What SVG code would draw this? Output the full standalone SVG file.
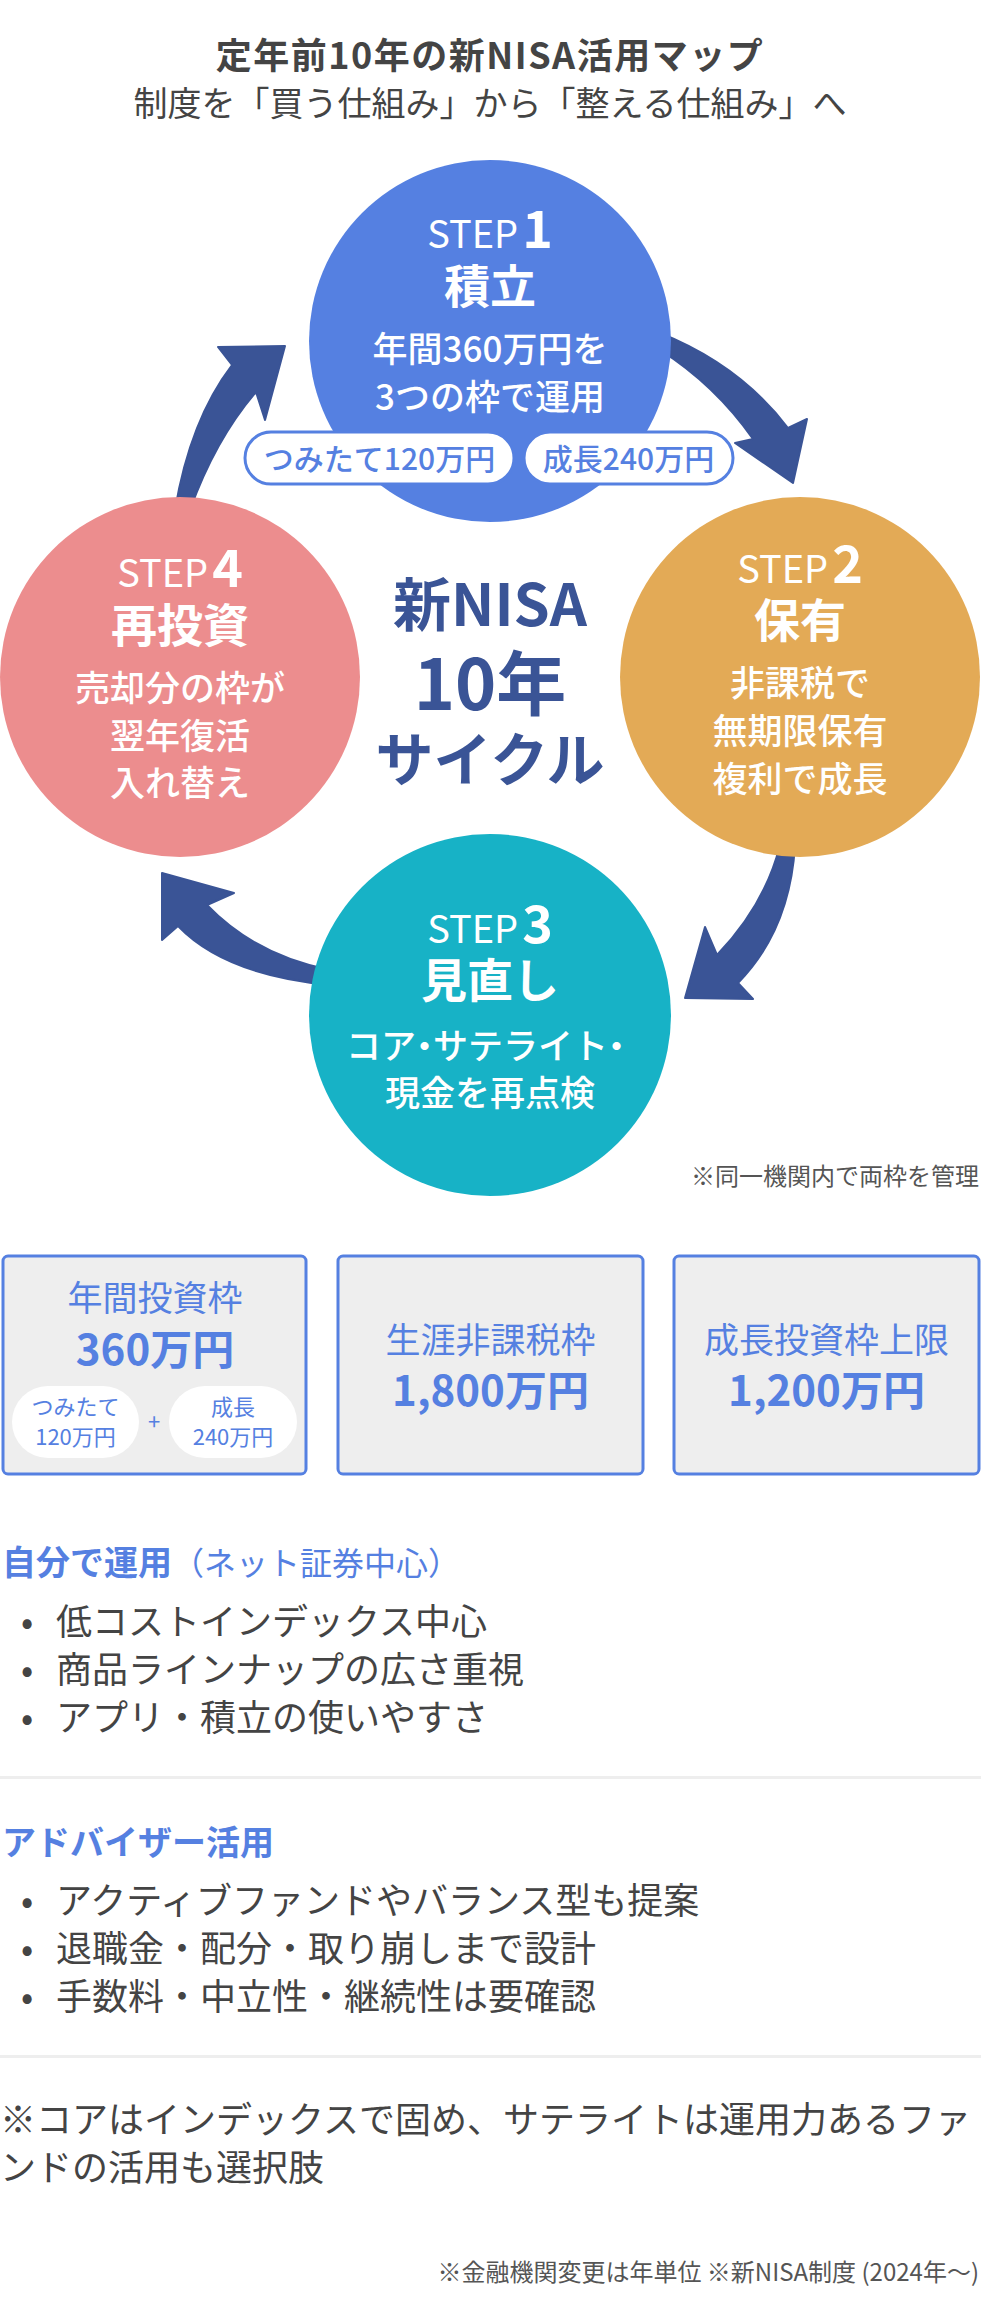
<svg xmlns="http://www.w3.org/2000/svg" width="981" height="2322" viewBox="0 0 981 2322">
<style>
text{font-family:"Noto Sans CJK JP","Noto Sans",sans-serif}
.ttl{font-size:36px;font-weight:700;fill:#444;letter-spacing:1.5px}
.sub{font-size:34px;fill:#444}
.stp{font-size:38px;font-weight:400;fill:#fff}
.num{font-size:52px;font-weight:700;fill:#fff}
.nt{font-size:46px;font-weight:700;fill:#fff}
.nb{font-size:35px;font-weight:500;fill:#fff}
.pilltx{font-size:30px;font-weight:500;fill:#5580E1}
.ctr{font-weight:700;fill:#3A5496}
.bl{font-size:35px;fill:#5580E1}
.bv{font-size:42px;font-weight:700;fill:#5580E1}
.ip{font-size:22px;fill:#5580E1}
.hd{font-size:34px;font-weight:700;fill:#5580E1}
.li{font-size:36px;fill:#444}
.sm{font-size:24px;fill:#555}
.arrow{fill:#3A5496;stroke:#3A5496;stroke-width:2;stroke-linejoin:round}
.box{fill:#EEEEEE;stroke:#5580E1;stroke-width:3}
</style>
<rect width="981" height="2322" fill="#fff"/>
<text class="ttl" x="490" y="69" text-anchor="middle">定年前10年の新NISA活用マップ</text>
<text class="sub" x="490" y="116" text-anchor="middle">制度を「買う仕組み」から「整える仕組み」へ</text>

<g id="connectors">
<path class="arrow" d="M 660 333 Q 740 365 788 428 L 807 419 L 793 483 L 735 443 L 753 439 Q 715 385 660 350 Z"/>
<path class="arrow" d="M 795 845 Q 790 930 738 983 L 753 999 L 685 998 L 705 927 L 717 955 Q 765 905 780 845 Z"/>
<path class="arrow" d="M 330 970 Q 255 955 207 905 L 234 893 L 162 873 L 162 940 L 178 926 Q 225 975 330 985 Z"/>
<path class="arrow" d="M 175 510 Q 190 420 232 365 L 218 347 L 285 346 L 265 420 L 256 392 Q 215 440 190 510 Z"/>
</g>

<g id="step1">
<circle cx="490" cy="341" r="181" fill="#5580E1"/>
<text x="490" y="248" text-anchor="middle"><tspan class="stp">STEP</tspan><tspan class="num" dx="4">1</tspan></text>
<text class="nt" x="490" y="303" text-anchor="middle">積立</text>
<text class="nb" x="490" y="362" text-anchor="middle">年間360万円を</text>
<text class="nb" x="490" y="410" text-anchor="middle">3つの枠で運用</text>
<rect x="245" y="432" width="269" height="52" rx="26" fill="#fff" stroke="#5580E1" stroke-width="3"/>
<text class="pilltx" x="379.5" y="470" text-anchor="middle">つみたて120万円</text>
<rect x="524" y="432" width="209" height="52" rx="26" fill="#fff" stroke="#5580E1" stroke-width="3"/>
<text class="pilltx" x="628.5" y="470" text-anchor="middle">成長240万円</text>
</g>

<g id="step2">
<circle cx="800" cy="677" r="180" fill="#E3AA56"/>
<text x="800" y="583" text-anchor="middle"><tspan class="stp">STEP</tspan><tspan class="num" dx="4">2</tspan></text>
<text class="nt" x="800" y="637" text-anchor="middle">保有</text>
<text class="nb" x="800" y="696" text-anchor="middle">非課税で</text>
<text class="nb" x="800" y="744" text-anchor="middle">無期限保有</text>
<text class="nb" x="800" y="792" text-anchor="middle">複利で成長</text>
</g>

<g id="step3">
<circle cx="490" cy="1015" r="181" fill="#17B2C6"/>
<text x="490" y="943" text-anchor="middle"><tspan class="stp">STEP</tspan><tspan class="num" dx="4">3</tspan></text>
<text class="nt" x="490" y="997" text-anchor="middle">見直し</text>
<text class="nb" x="490" y="1059" text-anchor="middle">コア<tspan dx="-9">・</tspan><tspan dx="-9">サテライト</tspan><tspan dx="-9">・</tspan></text>
<text class="nb" x="490" y="1106" text-anchor="middle">現金を再点検</text>
</g>

<g id="step4">
<circle cx="180" cy="677" r="180" fill="#EC8D8E"/>
<text x="180" y="587" text-anchor="middle"><tspan class="stp">STEP</tspan><tspan class="num" dx="4">4</tspan></text>
<text class="nt" x="180" y="642" text-anchor="middle">再投資</text>
<text class="nb" x="180" y="701" text-anchor="middle">売却分の枠が</text>
<text class="nb" x="180" y="749" text-anchor="middle">翌年復活</text>
<text class="nb" x="180" y="796" text-anchor="middle">入れ替え</text>
</g>

<g id="center">
<text class="ctr" x="490" y="626" font-size="58" text-anchor="middle">新NISA</text>
<text class="ctr" x="490" y="710" font-size="70" text-anchor="middle">10年</text>
<text class="ctr" x="490" y="781" font-size="58" text-anchor="middle">サイクル</text>
</g>

<text class="sm" x="979" y="1185" text-anchor="end" fill="#444">※同一機関内で両枠を管理</text>

<g id="box1">
<rect class="box" x="3" y="1256" width="303" height="218" rx="5"/>
<text class="bl" x="155" y="1311" text-anchor="middle">年間投資枠</text>
<text class="bv" x="155" y="1365" text-anchor="middle">360万円</text>
<rect x="12" y="1386" width="127" height="72" rx="36" fill="#fff"/>
<text class="ip" x="75.5" y="1415" text-anchor="middle">つみたて</text>
<text class="ip" x="75.5" y="1445" text-anchor="middle">120万円</text>
<text class="ip" x="154" y="1430" text-anchor="middle">+</text>
<rect x="169" y="1386" width="128" height="72" rx="36" fill="#fff"/>
<text class="ip" x="233" y="1415" text-anchor="middle">成長</text>
<text class="ip" x="233" y="1445" text-anchor="middle">240万円</text>
</g>

<g id="box2">
<rect class="box" x="338" y="1256" width="305" height="218" rx="5"/>
<text class="bl" x="490.5" y="1353" text-anchor="middle">生涯非課税枠</text>
<text class="bv" x="490.5" y="1406" text-anchor="middle">1,800万円</text>
</g>

<g id="box3">
<rect class="box" x="674" y="1256" width="305" height="218" rx="5"/>
<text class="bl" x="826.5" y="1353" text-anchor="middle">成長投資枠上限</text>
<text class="bv" x="826.5" y="1406" text-anchor="middle">1,200万円</text>
</g>

<g id="self">
<text class="hd" x="2" y="1575">自分で運用<tspan font-size="32" font-weight="400">（ネット証券中心）</tspan></text>
<text class="li" x="27" y="1635" text-anchor="middle">•</text>
<text class="li" x="56" y="1635">低コストインデックス中心</text>
<text class="li" x="27" y="1683" text-anchor="middle">•</text>
<text class="li" x="56" y="1683">商品ラインナップの広さ重視</text>
<text class="li" x="27" y="1731" text-anchor="middle">•</text>
<text class="li" x="56" y="1731">アプリ・積立の使いやすさ</text>
</g>

<rect x="0" y="1776" width="981" height="3" fill="#EEEEEE"/>

<g id="advisor">
<text class="hd" x="2" y="1855" font-size="35">アドバイザー活用</text>
<text class="li" x="27" y="1914" text-anchor="middle">•</text>
<text class="li" x="56" y="1914">アクティブファンドやバランス型も提案</text>
<text class="li" x="27" y="1962" text-anchor="middle">•</text>
<text class="li" x="56" y="1962">退職金・配分・取り崩しまで設計</text>
<text class="li" x="27" y="2010" text-anchor="middle">•</text>
<text class="li" x="56" y="2010">手数料・中立性・継続性は要確認</text>
</g>

<rect x="0" y="2055" width="981" height="3" fill="#EEEEEE"/>

<text class="li" x="0" y="2133">※コアはインデックスで固め、サテライトは運用力あるファ</text>
<text class="li" x="0" y="2181">ンドの活用も選択肢</text>

<text class="sm" x="979" y="2281" text-anchor="end">※金融機関変更は年単位 ※新NISA制度 (2024年〜)</text>
</svg>
